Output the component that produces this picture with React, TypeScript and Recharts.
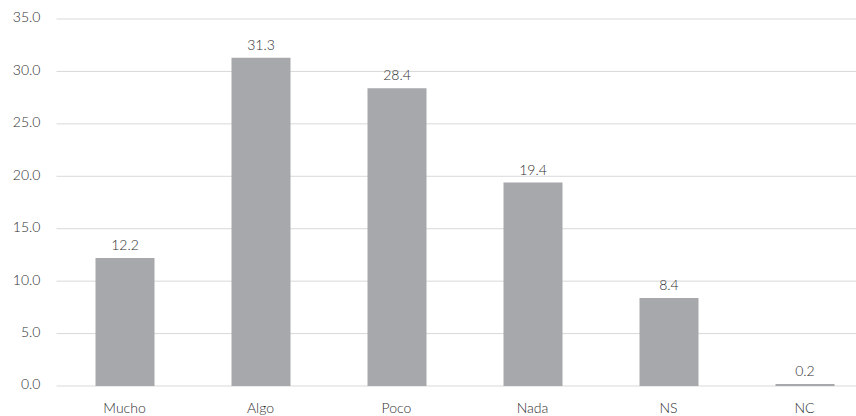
import React from "react";
import { BarChart, Bar, XAxis, YAxis, CartesianGrid, LabelList } from "recharts";

const categories = ["Mucho", "Algo", "Poco", "Nada", "NS", "NC"];
const values = [12.2, 31.3, 28.4, 19.4, 8.4, 0.2];
const yTicks = [0, 5, 10, 15, 20, 25, 30, 35];

const data = categories.map((c, i) => ({ name: c, value: values[i] }));

const FONT = "Lato, 'Open Sans', sans-serif";
const TEXT = "#2e2e2e";

export default function App() {
  return (
    <div
      style={{
        position: "fixed",
        top: 0,
        left: 0,
        width: 856,
        height: 416,
        overflow: "hidden",
        background: "#fff",
      }}
    >
      <BarChart
        width={880}
        height={416}
        data={data}
        margin={{ top: 19, right: 7.5, left: 0, bottom: 0 }}
      >
        <CartesianGrid vertical={false} stroke="#d9d9d9" />
        <XAxis
          dataKey="name"
          axisLine={false}
          tickLine={false}
          height={30}
          tickSize={0}
          tickMargin={17}
          tick={{ fill: TEXT, fontSize: 14, fontFamily: FONT, fontWeight: 300 }}
        />
        <YAxis
          domain={[0, 35]}
          ticks={yTicks}
          axisLine={false}
          tickLine={false}
          width={56.5}
          tickSize={0}
          tickMargin={16}
          dy={-1.5}
          tickFormatter={(v: number) => v.toFixed(1)}
          tick={{ fill: TEXT, fontSize: 14, fontFamily: FONT, fontWeight: 300 }}
        />
        <Bar dataKey="value" fill="#a7a8ab" barSize={59} isAnimationActive={false}>
          <LabelList
            dataKey="value"
            position="top"
            offset={8}
            formatter={(v: number) => v.toFixed(1)}
            style={{ fill: TEXT, fontSize: 14, fontFamily: FONT, fontWeight: 300 }}
          />
        </Bar>
      </BarChart>
    </div>
  );
}
